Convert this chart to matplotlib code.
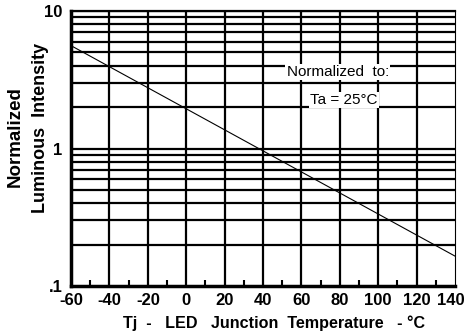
import matplotlib
matplotlib.use("Agg")
import matplotlib.pyplot as plt
import matplotlib.transforms as mtransforms

plt.rcParams['font.family'] = ['Liberation Sans', 'DejaVu Sans']

temp_c = [-60, 140]
intensity = [5.6, 0.165]
x_ticks = [-60, -40, -20, 0, 20, 40, 60, 80, 100, 120, 140]
x_minor = [-50, -30, -10, 10, 30, 50, 70, 90, 110, 130]
y_ticks = [0.1, 1, 10]
y_tick_labels = [".1", "1", "10"]
y_grid = [0.2, 0.3, 0.4, 0.5, 0.6, 0.7, 0.8, 0.9, 1, 2, 3, 4, 5, 6, 7, 8, 9, 10]

fig = plt.figure(figsize=(4.66, 3.34), dpi=100)
ax = fig.add_axes([0.1524, 0.1437, 0.8240, 0.8233])
ax.set_yscale('log')
ax.set_xlim(-60, 140)
ax.set_ylim(0.1, 10)

for xv in x_ticks[1:-1]:
    ax.axvline(xv, color='black', lw=1.6, zorder=1)
for yv in y_grid:
    ax.axhline(yv, color='black', lw=1.6, zorder=1)

ax.plot(temp_c, intensity, color='black', lw=0.8, zorder=2)

ax.set_xticks(x_ticks)
ax.set_xticklabels([str(v) for v in x_ticks], fontsize=12, fontweight='bold')
ax.set_xticks(x_minor, minor=True)
ax.set_yticks(y_ticks)
ax.set_yticklabels(y_tick_labels, fontsize=12, fontweight='bold')
ax.yaxis.set_minor_locator(matplotlib.ticker.NullLocator())
ax.tick_params(axis='x', which='major', length=0, pad=5)
ax.tick_params(axis='x', which='minor', length=4, width=1.5, direction='in')
ax.tick_params(axis='y', which='major', length=0, pad=6)

# keep the last x tick label inside the figure
last = ax.get_xticklabels()[-1]
last.set_transform(last.get_transform() +
                   mtransforms.ScaledTranslation(-4 / 100, 0, fig.dpi_scale_trans))

for s in ['left', 'bottom']:
    ax.spines[s].set_linewidth(2.5)
ax.spines['top'].set_linewidth(1.6)
ax.spines['right'].set_linewidth(0.8)

ax.text(79, 3.6, "Normalized  to:", fontsize=11, ha='center', va='center',
        bbox=dict(facecolor='white', edgecolor='none', pad=1.0), zorder=3)
ax.text(82, 2.25, "Ta = 25°C", fontsize=11, ha='center', va='center',
        bbox=dict(facecolor='white', edgecolor='none', pad=1.0), zorder=3)

fig.text(0.589, 0.033, "Tj  -   LED   Junction  Temperature   - °C", fontsize=11.6,
         fontweight='bold', ha='center', va='center')
fig.text(0.032, 0.59, "Normalized", rotation=90, fontsize=13.5, fontweight='bold',
         ha='center', va='center')
fig.text(0.086, 0.618, "Luminous  Intensity", rotation=90, fontsize=13,
         fontweight='bold', ha='center', va='center')

fig.savefig("out.png", dpi=100)
